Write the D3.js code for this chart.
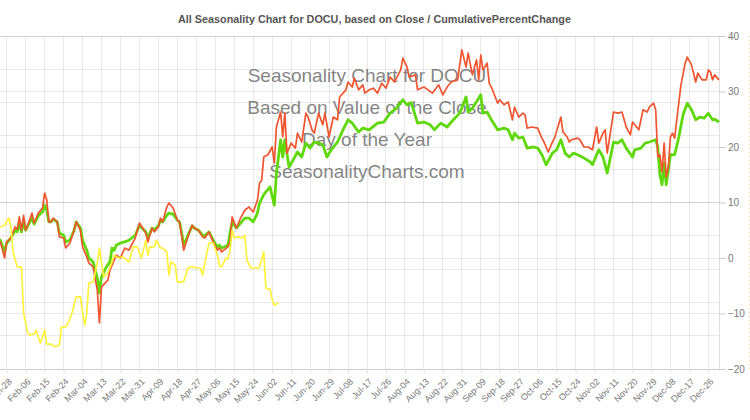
<!DOCTYPE html>
<html><head><meta charset="utf-8">
<script src="https://cdn.jsdelivr.net/npm/d3@7"></script>
<style>body{margin:0;background:#fff;overflow:hidden;} svg{display:block;}</style>
</head><body>
<svg id="chart" width="750" height="420"></svg>
<script>
const titleText = "All Seasonality Chart for DOCU, based on Close / CumulativePercentChange";
const watermarkLines = ["Seasonality Chart for DOCU", "Based on Value of the Close", "Day of the Year", "SeasonalityCharts.com"];
const yTickValues = [-20, -10, 0, 10, 20, 30, 40];
const tickStepDays = 9;

// day of year (2020) and cumulative percent change
const redDays = [24,25,27,28,30,32,33,34,35,36,37,38,40,41,43,45,46,47,48,49,50,52,53,55,56,58,60,61,63,64,66,67,69,71,72,73,76,77,79,80,82,84,86,89,91,94,95,97,98,100,101,102,104,105,107,109,110,111,112,114,116,117,119,121,122,124,126,128,129,130,133,134,135,137,139,141,143,145,147,148,149,150,152,154,155,156,158,159,160,161,163,165,166,168,170,171,173,174,176,178,179,181,183,185,186,189,190,192,193,195,197,198,200,202,204,206,208,210,212,215,216,218,219,222,223,226,228,230,233,235,237,239,242,244,246,247,249,251,252,253,254,256,257,258,261,262,264,266,268,269,271,273,274,275,277,280,282,283,285,287,288,291,292,294,295,296,299,300,302,304,306,308,309,311,312,313,316,318,320,322,324,325,328,330,332,333,335,336,337,338,339,340,341,342,343,344,345,347,348,350,351,353,355,356,358,360,361,362,363,364,366];
const redValues = [2.9,2.9,0.0,2.9,3.6,5.6,5.2,7.4,5.0,7.7,5.0,5.9,8.1,6.3,8.1,9.0,11.7,10.5,6.5,6.5,7.2,6.5,3.8,3.6,1.8,2.7,5.0,6.5,5.0,2.0,0.2,-0.9,-1.6,-5.8,-11.7,-5.2,-4.0,-2.2,-0.4,0.5,0.0,1.8,1.4,3.6,6.3,4.5,2.9,5.4,4.7,5.6,7.2,6.5,9.2,9.9,9.0,6.8,6.5,4.1,1.4,3.8,5.9,5.4,5.0,3.8,3.6,4.7,2.9,1.4,1.8,1.1,2.0,2.9,7.4,5.4,7.2,8.6,9.2,8.3,10.4,13.5,14.0,18.2,18.6,20.0,17.1,23.6,26.3,21.8,26.1,18.9,20.7,19.8,22.5,20.9,26.1,25.4,23.0,22.5,26.1,24.0,26.1,21.8,25.4,24.9,29.0,30.3,31.7,30.8,32.4,30.3,31.2,29.7,30.3,30.6,29.7,31.5,30.6,32.6,31.7,33.9,36.0,34.4,32.6,33.0,30.3,30.8,30.3,29.7,31.2,29.4,30.8,31.7,32.1,37.5,34.4,36.9,33.0,35.7,32.1,36.6,33.9,35.1,31.5,30.8,27.9,28.5,27.6,28.1,24.9,27.2,25.4,26.1,25.8,23.4,23.6,23.4,21.6,20.9,19.1,20.9,21.6,25.4,22.7,21.8,20.9,21.3,21.6,21.3,20.0,20.0,19.5,23.6,20.7,22.5,23.1,18.9,26.3,26.1,26.3,23.6,22.2,24.5,23.1,26.7,26.3,27.2,27.9,26.7,18.2,18.6,15.5,20.7,14.6,16.4,21.8,22.5,21.6,28.1,31.2,35.1,36.2,34.8,31.7,33.3,32.1,32.1,33.9,33.5,32.1,33.0,32.1];

const greenDays = [24,25,27,28,30,32,33,34,35,36,37,38,40,41,43,45,46,47,48,49,50,52,53,55,56,58,60,61,63,64,66,67,69,71,72,73,75,77,78,79,80,82,84,86,89,91,94,95,97,98,100,101,102,104,105,107,109,110,111,112,114,116,117,119,121,122,124,126,128,129,130,133,134,135,137,139,141,143,145,147,148,150,151,153,155,156,158,159,160,162,164,166,168,170,172,174,176,178,180,182,185,188,190,192,195,197,200,204,207,210,213,216,218,220,223,226,229,231,234,237,239,243,246,247,249,252,253,254,256,258,261,264,266,268,269,271,273,275,278,280,282,284,287,289,291,293,295,297,299,302,305,306,309,311,313,316,318,320,322,325,326,329,331,333,336,337,338,339,340,341,343,345,347,349,351,353,355,357,359,361,363,364,366];
const greenValues = [3.2,3.2,1.1,2.7,3.6,5.0,4.7,6.5,4.7,6.8,5.0,5.8,7.2,6.1,7.6,8.3,9.5,8.6,6.5,6.5,7.0,6.5,4.5,4.1,2.9,3.2,5.0,6.5,5.4,3.2,1.4,0.0,-0.7,-3.6,-6.3,-3.4,-1.8,-0.7,1.8,1.4,2.3,2.7,2.9,3.2,4.1,5.9,4.7,3.6,5.4,5.0,5.8,6.8,6.5,7.7,8.1,7.9,6.8,6.5,4.7,2.3,4.1,5.8,5.4,5.0,4.1,4.0,4.7,3.2,2.0,2.3,1.8,2.3,4.5,6.5,5.4,6.3,7.2,7.2,6.5,8.1,9.9,11.4,11.9,12.8,9.5,15.3,21.3,18.2,21.3,16.4,17.7,19.1,18.2,20.7,19.8,20.9,20.7,20.4,18.2,19.5,20.9,23.4,24.9,24.3,22.7,23.4,23.1,24.3,24.5,26.1,27.0,28.5,27.6,28.0,24.3,24.5,24.0,23.1,24.3,23.6,24.5,26.1,29.0,26.3,27.0,28.8,29.4,26.1,26.3,24.9,23.1,23.4,23.1,21.3,22.5,21.6,21.8,19.8,20.0,19.8,18.6,16.8,18.9,19.5,21.3,18.9,18.2,18.9,18.6,18.0,17.3,16.8,19.5,18.2,15.3,20.9,20.7,21.3,19.8,18.2,19.5,19.8,20.7,20.9,21.3,20.0,15.0,13.2,17.1,13.2,18.6,18.6,21.8,25.8,27.9,26.7,24.9,25.4,25.2,26.1,24.9,25.0,24.5];

const yellowDays = [24,25,27,29,30,31,33,35,36,38,39,41,42,44,46,47,49,51,53,54,56,57,59,61,63,64,65,66,67,69,71,72,74,76,78,79,81,83,86,88,90,92,94,95,96,98,99,101,102,104,105,106,108,109,112,114,116,118,120,121,123,124,126,128,129,130,132,133,134,135,136,138,140,141,142,144,147,148,150,151,152,153,154,155,157];
const yellowValues = [5.6,5.6,5.9,7.2,5.6,1.1,-1.6,-1.6,-9.9,-13.5,-13.9,-13.7,-13.0,-15.3,-13.0,-15.5,-15.5,-16.0,-15.7,-12.4,-12.4,-11.9,-9.9,-7.0,-7.0,-9.9,-12.1,-9.9,-4.5,-4.3,-0.9,1.8,-3.4,-2.7,-0.7,0.5,0.0,0.2,-0.7,2.0,2.0,0.0,3.2,0.5,2.0,2.0,3.2,1.8,1.8,1.1,-3.1,-0.7,-1.3,-4.3,-4.3,-1.8,-1.6,-1.8,-1.8,-3.1,0.9,2.7,2.7,0.5,-1.3,-1.6,0.0,-0.2,1.4,5.0,3.6,3.8,3.6,4.1,-0.4,-1.8,-1.8,-1.6,1.1,-5.4,-5.6,-5.6,-7.6,-8.5,-8.1];

const toDate = d => new Date(Date.UTC(2020, 0, d));
const svg = d3.select("#chart");

const x = d3.scaleUtc().domain([toDate(1), toDate(366)]).range([-50.2, 718.9]);
const y = d3.scaleLinear().domain([-20, 40]).range([369, 36]);
const yAux = d3.scaleLinear().domain([0, 10]).range([369, 36]);
const xTickValues = d3.range(1, 367, tickStepDays).map(toDate).filter(d => x(d) >= 0);

const gridCol = "rgba(0,0,0,0.085)";
// vertical grid
svg.append("g").selectAll("line").data(xTickValues).join("line")
  .attr("x1", d => x(d)).attr("x2", d => x(d)).attr("y1", 36).attr("y2", 369)
  .attr("stroke", gridCol).attr("stroke-width", 1).attr("shape-rendering", "crispEdges");
// aux horizontal grid
svg.append("g").selectAll("line").data(yAux.ticks(10)).join("line")
  .attr("x1", 0).attr("x2", 718.9).attr("y1", d => yAux(d)).attr("y2", d => yAux(d))
  .attr("stroke", gridCol).attr("shape-rendering", "crispEdges");
// main horizontal grid
svg.append("g").selectAll("line").data(yTickValues).join("line")
  .attr("x1", 0).attr("x2", 718.9).attr("y1", d => y(d)).attr("y2", d => y(d))
  .attr("stroke", gridCol).attr("shape-rendering", "crispEdges");

// faint secondary axis line at the right edge
svg.append("line").attr("x1", 749.5).attr("x2", 749.5).attr("y1", 36).attr("y2", 369)
  .attr("stroke", "#f5b041").attr("stroke-opacity", 0.5).attr("stroke-dasharray", "1,3");

// watermark
svg.append("g").selectAll("text").data(watermarkLines).join("text")
  .attr("x", 367).attr("y", (d, i) => 82 + i * 32)
  .attr("text-anchor", "middle")
  .attr("font-family", "'Liberation Sans', Arial, sans-serif")
  .attr("font-size", 19).attr("fill", "#6e6e6e").attr("fill-opacity", 0.85)
  .text(d => d);

// axes
const xAxis = d3.axisBottom(x).tickValues(xTickValues).tickFormat(d3.utcFormat("%b-%d")).tickSize(4);
const gx = svg.append("g").attr("transform", "translate(0,369)").call(xAxis);
gx.select(".domain").attr("stroke", "#ccc").attr("d", "M0,0.5H718.9");
gx.selectAll(".tick line").attr("stroke", "#ddd");
gx.selectAll(".tick text")
  .attr("font-family", "'Liberation Sans', Arial, sans-serif").attr("font-size", 9).attr("fill", "#777")
  .attr("text-anchor", "end").attr("x", 0).attr("y", 0).attr("dy", "0.35em")
  .attr("transform", "translate(3,11) rotate(-45)");

const yAxis = d3.axisRight(y).tickValues(yTickValues).tickSize(7).tickPadding(2);
const gy = svg.append("g").attr("transform", "translate(718.9,0)").call(yAxis);
gy.select(".domain").attr("stroke", "#ddd").attr("d", "M0.5,36V369");
gy.selectAll(".tick line").attr("stroke", "#ccc");
gy.selectAll(".tick text").attr("font-family", "'Liberation Sans', Arial, sans-serif").attr("font-size", 10).attr("fill", "#777");

// lines
const line = d3.line().x(d => x(toDate(d[0]))).y(d => y(d[1]));
const series = [
  {days: greenDays, values: greenValues, color: "#5fd80a", width: 2.8},
  {days: redDays, values: redValues, color: "#f0552f", width: 1.7},
  {days: yellowDays, values: yellowValues, color: "#fff23c", width: 1.7}
];
series.forEach(s => {
  svg.append("path").datum(d3.zip(s.days, s.values))
    .attr("d", line).attr("fill", "none").attr("stroke", s.color)
    .attr("stroke-width", s.width).attr("stroke-linejoin", "round");
});

// title
svg.append("text").attr("x", 374.5).attr("y", 23).attr("text-anchor", "middle")
  .attr("font-family", "'Liberation Sans Narrow', 'Arial Narrow', 'Liberation Sans', sans-serif")
  .attr("font-weight", "bold").attr("font-size", 10).attr("fill", "#555")
  .attr("textLength", 393).attr("lengthAdjust", "spacingAndGlyphs")
  .text(titleText);
</script>
</body></html>
